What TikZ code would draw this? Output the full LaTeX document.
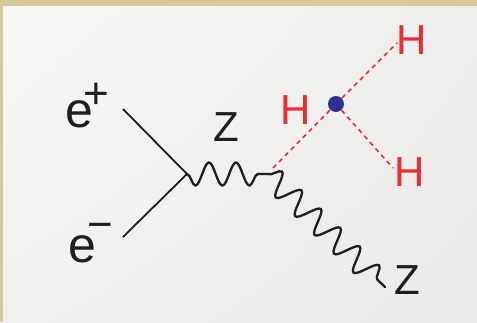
\documentclass[tikz,border=0pt]{standalone}
\usepackage{fontspec}
\setmainfont{Liberation Sans}
\usetikzlibrary{decorations.pathmorphing,shadings}
\definecolor{tan}{RGB}{214,201,154}
\definecolor{hred}{RGB}{237,43,51}
\definecolor{hblue}{RGB}{46,49,146}
\definecolor{ink}{RGB}{30,30,30}
\definecolor{bgul}{RGB}{248,248,246}
\definecolor{bgur}{RGB}{238,238,236}
\definecolor{bgll}{RGB}{240,240,238}
\definecolor{bglr}{RGB}{234,234,232}
\tikzset{
  lab/.style={inner sep=0pt, text=ink, font=\fontsize{42}{42}\selectfont},
  hlab/.style={inner sep=0pt, text=hred, font=\fontsize{42}{42}\selectfont},
  fermion/.style={draw=ink, line width=1.8pt},
  boson/.style={draw=ink, line width=2.3pt, line cap=round, decorate,
     decoration={snake, amplitude=11.5pt, segment length=27pt}},
  higgs/.style={draw=hred, line width=1.6pt, dash pattern=on 4.5pt off 4pt},
}
\begin{document}
\begin{tikzpicture}[x=1pt,y=-1pt]
\useasboundingbox (0,0) rectangle (477,322);
\fill[tan] (0,0) rectangle (477,322);
\shade[upper left=bgul, upper right=bgur, lower left=bgll, lower right=bglr]
  (3,6) rectangle (477,322);
% vertices
\coordinate (ein) at (123,109);
\coordinate (pin) at (123,237);
\coordinate (v) at (187,174);
\coordinate (w) at (268,174);
\coordinate (zend) at (385,287);
\coordinate (hs) at (273,168);
\coordinate (h1) at (397,43);
\coordinate (h2) at (393,168);
% fermions
\draw[fermion] (ein) -- (v);
\draw[fermion] (pin) -- (v);
% bosons
\draw[boson, decoration={mirror}] (v) -- (w);
\draw[boson] (w) -- (zend);
% higgs
\coordinate (dc) at (336,104);
\draw[higgs] (hs) -- (dc);
\draw[higgs] (dc) -- (h1);
\draw[higgs] (dc) -- (h2);
\node[circle, fill=hblue, inner sep=0pt, minimum size=16pt] (dot) at (dc) {};
% labels
\node[lab, anchor=base west] (ep) at (65,127)
  {\fontsize{50}{50}\selectfont e\kern-10pt\raisebox{19pt}{\fontsize{44}{44}\selectfont +}};
\node[lab, anchor=base west] (em) at (68,262)
  {\fontsize{50}{50}\selectfont e\kern-9pt\raisebox{22.5pt}{\fontsize{44}{44}\selectfont \char"2212}};
\node[lab] (z1) at (226,127) {Z};
\node[lab] (z2) at (407,280) {Z};
\node[hlab] (ha) at (412,40) {H};
\node[hlab] (hb) at (296,110) {H};
\node[hlab] (hc) at (410,172) {H};
\end{tikzpicture}
\end{document}
